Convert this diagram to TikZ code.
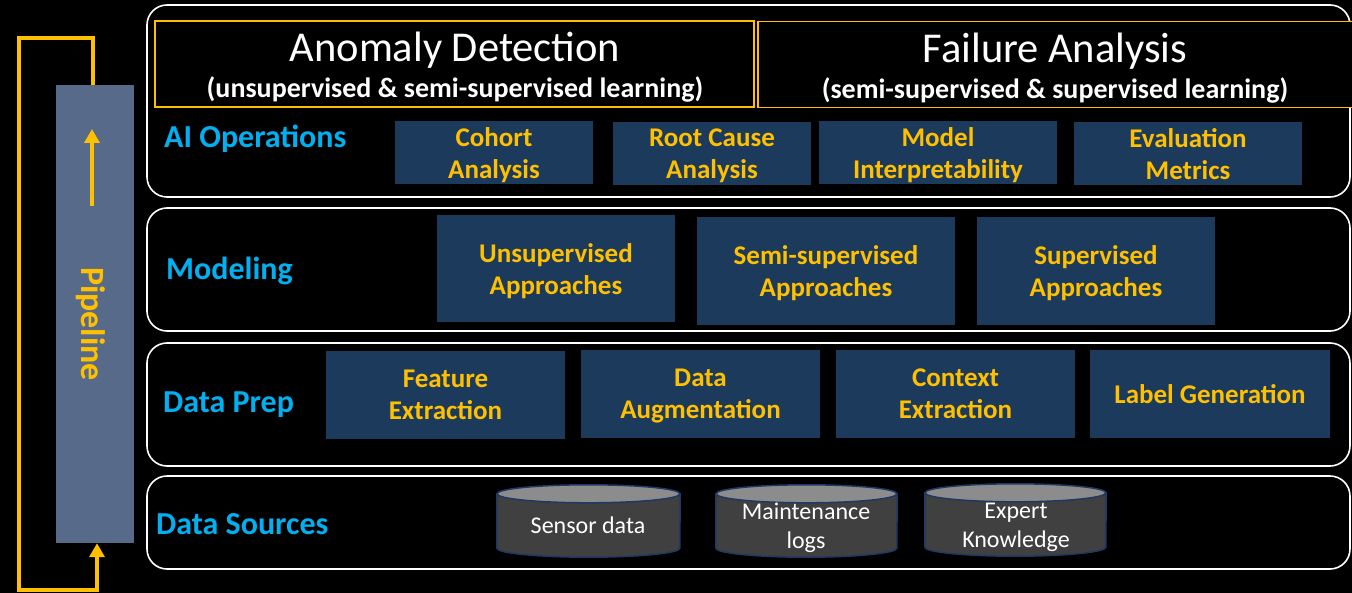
\documentclass[tikz,border=0pt]{standalone}
\usepackage{fontspec}
\setmainfont{Carlito}
\usetikzlibrary{arrows.meta,calc}
\definecolor{orng}{HTML}{FFC000}
\definecolor{cyanl}{HTML}{00B0F0}
\definecolor{boxblue}{HTML}{1B3A5C}
\definecolor{barblue}{HTML}{576A8A}
\definecolor{cylbody}{HTML}{404040}
\definecolor{cyltop}{HTML}{8C8C8C}
\definecolor{cyledge}{HTML}{1F3864}
\tikzset{
  panel/.style={draw=white, line width=1.6pt, rounded corners=20pt, fill=black},
  hdr/.style={draw=orng, line width=1.6pt, fill=black, minimum height=86pt, inner sep=0pt},
  hdrtitle/.style={text=white, font=\fontsize{42.5}{48}\selectfont, inner sep=0pt},
  hdrsub/.style={text=white, font=\bfseries\fontsize{28}{32}\selectfont, inner sep=0pt},
  layerlabel/.style={text=cyanl, font=\bfseries\fontsize{32}{36}\selectfont, anchor=west, inner sep=0pt, text depth=0pt},
  opbox/.style={fill=boxblue, text=orng, font=\bfseries\fontsize{27}{32}\selectfont, align=center, inner sep=0pt, text depth=0pt},
  cyltext/.style={text=white, font=\fontsize{24}{29}\selectfont, align=center, inner sep=0pt, text depth=0pt},
  loopline/.style={draw=orng, line width=3.5pt},
  tip/.style={-{Triangle[length=14pt,width=15pt]}},
}
\newcommand{\cyl}[5]{% name, cx, cy, w, h
  \node[minimum width=#4pt, minimum height=#5pt, inner sep=0pt] (#1) at (#2,#3) {};
  \fill[cylbody, draw=cyledge, line width=1.5pt]
    ($(#1.north west)+(0,9)$) -- ($(#1.south west)+(0,-9)$)
    arc[start angle=180, end angle=360, x radius=#4pt/2, y radius=9pt]
    -- ($(#1.north east)+(0,9)$) -- cycle;
  \fill[cyltop, draw=cyledge, line width=1.5pt] ($(#1.north)+(0,9)$) ellipse[x radius=#4pt/2, y radius=9pt];
}
\begin{document}
\begin{tikzpicture}[x=1pt,y=-1pt]
\fill[black] (0,0) rectangle (1352,593);
\useasboundingbox (0,0) rectangle (1352,593);

% panels
\draw[panel] (147,5) rectangle (1350,197);
\draw[panel] (147,208) rectangle (1350,331);
\draw[panel] (147,343) rectangle (1350,466);
\draw[panel] (147,476) rectangle (1350,569);

% headers
\node[hdr, minimum width=599pt] (ad) at (454.5,64) {};
\node[hdr, minimum width=600pt] (fa) at (1058,64.5) {};
\node[hdrtitle] (adt) at (455,50) {Anomaly Detection};
\node[hdrsub] (ads) at (455,89) {(unsupervised \& semi-supervised learning)};
\node[hdrtitle] (fat) at (1055,51) {Failure Analysis};
\node[hdrsub] (fas) at (1055,90) {(semi-supervised \& supervised learning)};

% layer labels
\node[layerlabel] (lai) at (164,136) {AI Operations};
\node[layerlabel] (lmo) at (166,268) {Modeling};
\node[layerlabel] (ldp) at (163,402) {Data Prep};
\node[layerlabel] (lds) at (156,524) {Data Sources};

% AI operations
\node[opbox, minimum width=198pt, minimum height=63pt] (coh) at (494,153) {Cohort\\Analysis};
\node[opbox, minimum width=198pt, minimum height=63pt] (rca) at (712,154) {Root Cause\\Analysis};
\node[opbox, minimum width=238pt, minimum height=63pt] (mi) at (938,153) {Model\\Interpretability};
\node[opbox, minimum width=228pt, minimum height=63pt] (em) at (1188,154) {Evaluation\\Metrics};

% Modeling
\node[opbox, minimum width=238pt, minimum height=107pt] (un) at (556,269) {Unsupervised\\Approaches};
\node[opbox, minimum width=258pt, minimum height=108pt] (ss) at (826,271) {Semi-supervised\\Approaches};
\node[opbox, minimum width=238pt, minimum height=108pt] (su) at (1096,271) {Supervised\\Approaches};

% Data prep
\node[opbox, minimum width=239pt, minimum height=87pt] (fe) at (445.5,395) {Feature\\Extraction};
\node[opbox, minimum width=239pt, minimum height=87pt] (da) at (700.5,394) {Data\\Augmentation};
\node[opbox, minimum width=239pt, minimum height=87pt] (ce) at (955.5,394) {Context\\Extraction};
\node[opbox, minimum width=240pt, minimum height=87pt] (lg) at (1210,394) {Label Generation};

% Data sources
\cyl{sd}{588.5}{521}{183}{72}
\cyl{ml}{806.5}{521}{181}{72}
\cyl{ek}{1015.5}{520}{181}{72}
\node[cyltext] (sdt) at (588,525) {Sensor data};
\node[cyltext] (mlt) at (806,526) {Maintenance\\logs};
\node[cyltext] (ekt) at (1016,525) {Expert\\Knowledge};

% pipeline
\node[fill=barblue, minimum width=78pt, minimum height=458pt, inner sep=0pt] (pipe) at (95,314) {};
\node[rotate=-90, text=orng, font=\bfseries\fontsize{34}{38}\selectfont, inner sep=0pt] (pipet) at (91,324) {Pipeline};
\coordinate (arrtail) at (92,206);
\coordinate (arrhead) at (92,129);
\draw[loopline, tip] (arrtail) -- (arrhead);
\coordinate (ltop) at (19,38);
\coordinate (lbot) at (19,590);
\draw[loopline, line join=miter, tip] ([xshift=-2pt]pipe.north) |- (ltop) -- (lbot) -| ([xshift=2pt]pipe.south);
\end{tikzpicture}
\end{document}
